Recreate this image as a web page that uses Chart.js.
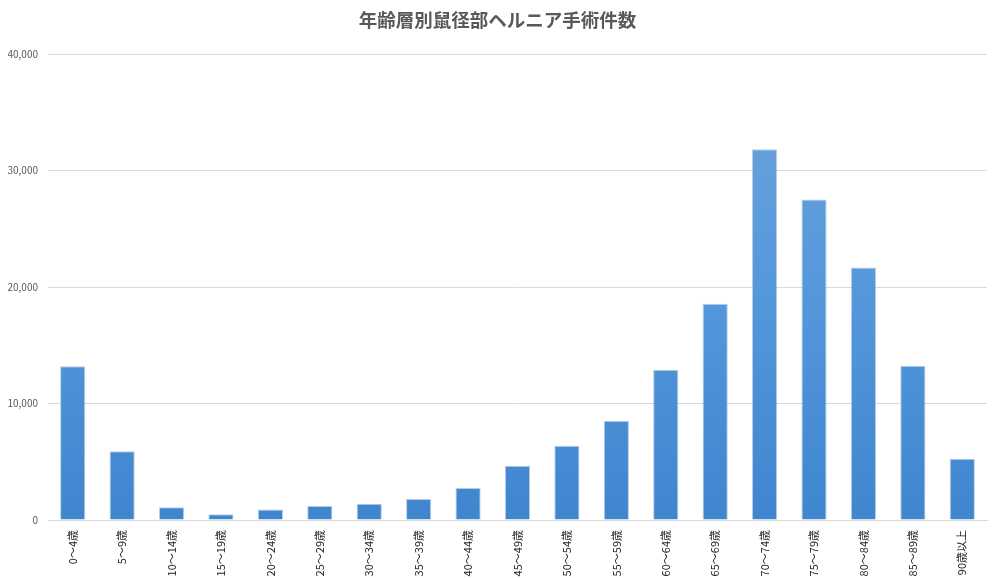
<!DOCTYPE html>
<html>
<head>
<meta charset="utf-8">
<script src="https://cdn.jsdelivr.net/npm/chart.js@4"></script>
<style>
	html, body { margin: 0; padding: 0; background: #fff; }
	#wrap { width: 1000px; height: 578px; }
</style>
</head>
<body>
<div id="wrap"><canvas id="hernia"></canvas></div>
<script>
// Age groups
const ageGroups = [
	'0～4歳', '5～9歳', '10～14歳', '15～19歳', '20～24歳', '25～29歳', '30～34歳',
	'35～39歳', '40～44歳', '45～49歳', '50～54歳', '55～59歳', '60～64歳', '65～69歳',
	'70～74歳', '75～79歳', '80～84歳', '85～89歳', '90歳以上'
];

// Number of operations per age group
const operations = [
	13200, 5900, 1100, 500, 900, 1200, 1400,
	1800, 2750, 4650, 6370, 8520, 12900, 18580,
	31830, 27530, 21680, 13250, 5250
];

const chartTitle = '年齢層別鼠径部ヘルニア手術件数';

const fontFamily = '"Noto Sans CJK JP", "Noto Sans", sans-serif';

// Vertical gradient, lighter at the top of the bar
function barGradient( context ) {
	const chart = context.chart;
	const area = chart.chartArea;
	if ( ! area ) {
		return '#4a90d6';
	}
	const g = chart.ctx.createLinearGradient( 0, area.top, 0, area.bottom );
	g.addColorStop( 0, '#70a5dd' );
	g.addColorStop( 0.5, '#5598dc' );
	g.addColorStop( 1, '#3f86cf' );
	return g;
}

const ctx = document.getElementById( 'hernia' ).getContext( '2d' );
new Chart( ctx, {
	type: 'bar',
	data: {
		labels: ageGroups,
		datasets: [
			{
				label: '手術件数',
				data: operations,
				backgroundColor: barGradient,
				borderColor: 'rgba(60,110,170,0.35)',
				borderWidth: 1,
				barPercentage: 0.51,
				categoryPercentage: 1
			}
		]
	},
	options: {
		responsive: true,
		maintainAspectRatio: false,
		animation: false,
		layout: {
			padding: { left: 8, right: 13, top: 0, bottom: 0 }
		},
		plugins: {
			legend: { display: false },
			tooltip: { enabled: false },
			title: {
				display: true,
				text: chartTitle,
				color: '#595959',
				font: { family: fontFamily, size: 18.5, weight: 'bold' },
				padding: { top: 9, bottom: 23 }
			}
		},
		scales: {
			x: {
				grid: { display: false },
				border: { color: '#d9d9d9' },
				ticks: {
					color: '#222',
					font: { family: fontFamily, size: 11 },
					minRotation: 90,
					maxRotation: 90,
					autoSkip: false,
					padding: 2
				},
				afterFit: function( scale ) {
					scale.height = 58;
				}
			},
			y: {
				min: 0,
				max: 40000,
				grid: { color: '#d9d9d9', drawTicks: false },
				border: { display: false },
				ticks: {
					stepSize: 10000,
					color: '#595959',
					font: { family: fontFamily, size: 10 },
					padding: 10,
					callback: function( v ) {
						return v.toLocaleString( 'en-US' );
					}
				},
				afterFit: function( scale ) {
					scale.width = 40;
				}
			}
		}
	}
} );
</script>
</body>
</html>
